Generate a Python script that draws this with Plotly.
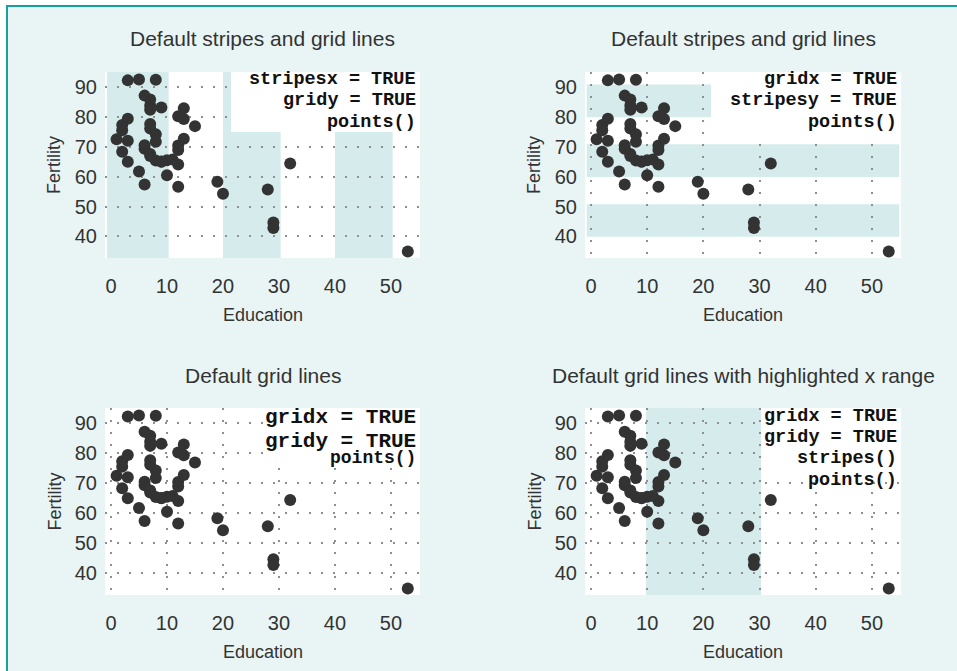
import plotly.graph_objects as go

# Swiss data: Education vs Fertility
education = [12, 9, 5, 7, 15, 7, 7, 8, 7, 13, 6, 12, 7, 12, 5, 2, 8, 28, 20, 9,
             10, 3, 12, 6, 1, 8, 3, 10, 19, 8, 2, 6, 2, 6, 3, 9, 3, 13, 12, 11,
             13, 32, 7, 7, 53, 29, 29]
fertility = [80.2, 83.1, 92.5, 85.8, 76.9, 76.1, 83.8, 92.4, 82.4, 82.9, 87.1,
             64.1, 66.9, 68.9, 61.7, 68.3, 71.7, 55.7, 54.3, 65.1, 65.5, 65.0,
             56.6, 57.4, 72.5, 74.2, 72.0, 60.5, 58.3, 65.4, 75.5, 69.3, 77.3,
             70.5, 79.4, 65.0, 92.2, 79.3, 70.4, 65.7, 72.7, 64.4, 77.6, 67.6,
             35.0, 44.7, 42.8]

x_ticks = [0, 10, 20, 30, 40, 50]
y_ticks = [40, 50, 60, 70, 80, 90]
highlight_range = [10, 30]

titles = [
    "Default stripes and grid lines",
    "Default stripes and grid lines",
    "Default grid lines",
    "Default grid lines with highlighted x range",
]
legend_texts = [
    ["stripesx = TRUE", "gridy = TRUE", "points()"],
    ["gridx = TRUE", "stripesy = TRUE", "points()"],
    ["gridx = TRUE", "gridy = TRUE", "points()"],
    ["gridx = TRUE", "gridy = TRUE", "stripes()", "points()"],
]
x_label = "Education"
y_label = "Fertility"

# ---------------- styling / layout ----------------
OX, OY = 6, 5              # page offset of the figure
Wf, Hf = 957 - OX, 671 - OY
BG = "#e9f5f5"
STRIPE = "#d6ecec"
BORDER = "#17a0a2"
GRID = "#8f8f8f"
PT = "#333333"
TXT = "#333333"
SANS = "Liberation Sans, Arial, Helvetica, sans-serif"
MONO = "Courier New, Liberation Mono, monospace"

XR = [-1.07, 55.18]
YR = [32.8, 95.0]

# pixel boxes (page px) of each panel: (left, right, top, bottom)
panels_px = [
    (105, 420, 72, 258),
    (585, 901, 72, 258),
    (105, 420, 408, 595),
    (585, 901, 408, 595),
]
cfg = [
    dict(gridx=False, gridy=True, stripesx=True, stripesy=False, hl=False),
    dict(gridx=True, gridy=False, stripesx=False, stripesy=True, hl=False),
    dict(gridx=True, gridy=True, stripesx=False, stripesy=False, hl=False),
    dict(gridx=True, gridy=True, stripesx=False, stripesy=False, hl=True),
]
# white legend boxes (left px, bottom px), text line centres (px), font sizes
box_px = [(231, 132), (711, 134), (263, 468), (762, 478)]
line_px = [
    [80, 101, 122.7],
    [80, 101, 122.7],
    [417.3, 441, 458.3],
    [416, 437, 458.3, 480],
]
line_size = [
    [18.5, 18.5, 18.5],
    [18.5, 18.5, 18.5],
    [21, 21, 18],
    [18.5, 18.5, 18.5, 18.5],
]

fig = go.Figure()
shapes = []
annotations = []


def px2x(p):
    return (p - OX) / Wf


def px2y(p):
    return 1 - (p - OY) / Hf


for i, (l, r, t, b) in enumerate(panels_px):
    n = "" if i == 0 else str(i + 1)
    xa, ya = "x" + n, "y" + n
    c = cfg[i]
    fig.add_trace(go.Scatter(
        x=education, y=fertility, mode="markers", xaxis=xa, yaxis=ya,
        marker=dict(size=12, color=PT, line=dict(width=0)),
        showlegend=False, hoverinfo="skip"))

    common = dict(showline=False, zeroline=False, ticks="",
                  tickfont=dict(family=SANS, size=20, color=TXT),
                  griddash="2px,10px", gridcolor=GRID, gridwidth=2)
    fig.update_layout(**{
        ("xaxis" + n): dict(domain=[px2x(l), px2x(r)], range=XR,
                            tickvals=x_ticks, showgrid=c["gridx"],
                            anchor=ya, ticklabelstandoff=14, **common),
        ("yaxis" + n): dict(domain=[px2y(b), px2y(t)], range=YR,
                            tickvals=y_ticks, showgrid=c["gridy"],
                            anchor=xa, ticklabelstandoff=7, **common),
    })

    # stripes
    if c["stripesx"]:
        for k in range(0, len(x_ticks) - 1, 2):
            x0 = XR[0] + 0.35 if k == 0 else x_ticks[k]
            shapes.append(dict(type="rect", xref=xa, yref=ya,
                               x0=x0, x1=x_ticks[k + 1] + 0.3,
                               y0=YR[0], y1=YR[1],
                               fillcolor=STRIPE, line_width=0, layer="below"))
    if c["stripesy"]:
        for k in range(0, len(y_ticks) - 1, 2):
            shapes.append(dict(type="rect", xref=xa, yref=ya,
                               x0=XR[0] + 0.3, x1=XR[1] - 0.3,
                               y0=y_ticks[k] - 0.1, y1=y_ticks[k + 1] + 0.8,
                               fillcolor=STRIPE, line_width=0, layer="below"))
    if c["hl"]:
        shapes.append(dict(type="rect", xref=xa, yref=ya,
                           x0=highlight_range[0] - 0.2,
                           x1=highlight_range[1] + 0.3, y0=YR[0], y1=YR[1],
                           fillcolor=STRIPE, line_width=0, layer="below"))

    # legend box (white) covering grid/stripes
    bl, bb = box_px[i]
    bx0 = XR[0] + (bl - l) / (r - l) * (XR[1] - XR[0])
    by0 = YR[1] - (bb - t) / (b - t) * (YR[1] - YR[0])
    shapes.append(dict(type="rect", xref=xa, yref=ya,
                       x0=bx0, x1=XR[1], y0=by0, y1=YR[1],
                       fillcolor="white", line_width=0, layer="between"))
    for txt, yp, fs in zip(legend_texts[i], line_px[i], line_size[i]):
        annotations.append(dict(
            text="<b>" + txt + "</b>", xref="paper", yref="paper",
            x=px2x(r - 2), y=px2y(yp),
            xanchor="right", yanchor="middle", showarrow=False,
            font=dict(family=MONO, size=fs, color="#111111")))

    # title
    ty = 39 if i < 2 else 375
    annotations.append(dict(text=titles[i], xref="paper", yref="paper",
                            x=px2x((l + r) / 2), y=px2y(ty), xanchor="center",
                            yanchor="middle", showarrow=False,
                            font=dict(family=SANS, size=21, color=TXT)))
    # axis titles
    annotations.append(dict(text=x_label, xref="paper", yref="paper",
                            x=px2x((l + r) / 2), y=px2y(b + 57), xanchor="center",
                            yanchor="middle", showarrow=False,
                            font=dict(family=SANS, size=18, color=TXT)))
    annotations.append(dict(text=y_label, xref="paper", yref="paper",
                            x=px2x(l - 51), y=px2y((t + b) / 2), xanchor="center",
                            yanchor="middle", showarrow=False, textangle=-90,
                            font=dict(family=SANS, size=18, color=TXT)))

# outer frame (top and left)
shapes.append(dict(type="line", xref="paper", yref="paper",
                   x0=px2x(OX), x1=1.01, y0=px2y(OY + 1), y1=px2y(OY + 1),
                   line=dict(color=BORDER, width=2)))
shapes.append(dict(type="line", xref="paper", yref="paper",
                   x0=px2x(OX + 1), x1=px2x(OX + 1), y0=1.01, y1=-0.01,
                   line=dict(color=BORDER, width=2)))

fig.update_layout(
    width=Wf, height=Hf, margin=dict(l=0, r=0, t=0, b=0),
    paper_bgcolor=BG, plot_bgcolor="white",
    shapes=shapes, annotations=annotations, showlegend=False,
)

fig.write_html("out.html",
               post_script="document.body.style.margin='%dpx 0 0 %dpx';" % (OY, OX))
